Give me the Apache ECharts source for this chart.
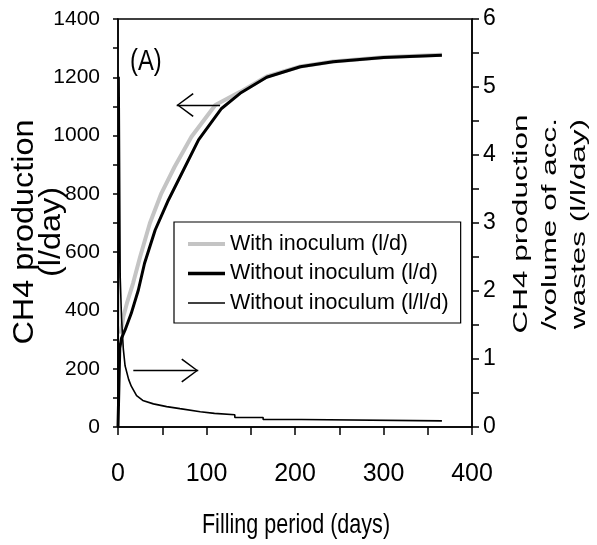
<!DOCTYPE html>
<html>
<head>
<meta charset="utf-8">
<script src="https://cdn.jsdelivr.net/npm/echarts@6/dist/echarts.min.js"></script>
<style>
  html, body { margin: 0; padding: 0; background: #fff; }
  #main { width: 597px; height: 545px; }
</style>
</head>
<body>
<div id="main"></div>
<script>
// with inoculum (l/d), left axis
const withDays = [3, 6, 10, 17, 25, 36, 49, 64, 83, 110, 138, 168, 206, 243, 300, 366]
const withVals = [320, 378, 424, 493, 584, 699, 802, 893, 996, 1105, 1150, 1203, 1237, 1254, 1269, 1277]

// without inoculum (l/d), left axis
const withoutDays = [0, 2, 4, 8, 15, 23, 30, 42, 57, 72, 91, 117, 138, 168, 206, 243, 300, 366]
const withoutVals = [0, 270, 305, 333, 390, 470, 562, 676, 779, 870, 985, 1093, 1145, 1200, 1236, 1253, 1268, 1276]

// without inoculum (l/l/d), right axis
const ratioDays = [0, 1.2, 2.5, 4, 6, 8, 12, 15, 21, 28, 40, 55, 70, 93, 109, 110, 132, 132, 164, 164, 207, 207, 366]
const ratioVals = [0, 5.15, 2.2, 1.6, 1.15, 0.9, 0.7, 0.6, 0.46, 0.39, 0.34, 0.3, 0.27, 0.225, 0.2, 0.18, 0.18, 0.14, 0.14, 0.11, 0.11, 0.09, 0.09]

const xTicks = [0, 400, 100]
const leftTicks = [0, 1400, 200]
const rightTicks = [0, 6, 1]

const pairs = (xs, ys) => xs.map((x, i) => [x, ys[i]])
const plain = v => String(v)

const sans = '"Liberation Sans", Arial, sans-serif'
// open V arrow head, tip in the middle of its box
const head = 'path://M0,-17 L0.01,-17 L0,-16.99 Z M0,0 L12,16 L10.8,17 L0,2.2 L-10.8,17 L-12,16 Z'
const bar = h => 'path://M0,0 L37,0 L37,' + h + ' L0,' + h + ' Z'

const chart = echarts.init(document.getElementById('main'))
chart.setOption({
  animation: false,
  grid: {
    left: 118, right: 125, top: 19, bottom: 118,
    show: true, borderColor: '#000', borderWidth: 1.5, backgroundColor: 'transparent'
  },
  legend: {
    orient: 'vertical',
    left: 174, top: 222,
    padding: [11, 12, 9, 14],
    itemWidth: 37, itemHeight: 14, itemGap: 7.5,
    borderColor: '#000', borderWidth: 1.2,
    textStyle: { fontFamily: sans, fontSize: 21.5, lineHeight: 22, color: '#000' },
    data: [
      { name: 'With inoculum (l/d)', icon: bar(4) },
      { name: 'Without inoculum (l/d)', icon: bar(3.6) },
      { name: 'Without inoculum (l/l/d)', icon: bar(1.4) }
    ]
  },
  xAxis: {
    type: 'value',
    min: xTicks[0], max: xTicks[1], interval: xTicks[2],
    axisLine: { lineStyle: { color: '#000', width: 1.5 } },
    axisTick: { length: 8, lineStyle: { color: '#000', width: 1.5 } },
    minorTick: { show: true, splitNumber: 2, length: 8, lineStyle: { color: '#000', width: 1.5 } },
    axisLabel: { fontFamily: sans, fontSize: 25, color: '#000', margin: 35, formatter: plain },
    splitLine: { show: false }
  },
  yAxis: [
    {
      type: 'value',
      min: leftTicks[0], max: leftTicks[1], interval: leftTicks[2],
      axisLine: { show: true, lineStyle: { color: '#000', width: 1.5 } },
      axisTick: { length: 5, lineStyle: { color: '#000', width: 1.5 } },
      minorTick: { show: true, splitNumber: 2, length: 5, lineStyle: { color: '#000', width: 1.5 } },
      axisLabel: { fontFamily: sans, fontSize: 21, color: '#000', margin: 18, formatter: plain },
      splitLine: { show: false }
    },
    {
      type: 'value', position: 'right',
      min: rightTicks[0], max: rightTicks[1], interval: rightTicks[2],
      axisLine: { show: true, lineStyle: { color: '#000', width: 1.5 } },
      axisTick: { length: 7, lineStyle: { color: '#000', width: 1.5 } },
      minorTick: { show: true, splitNumber: 2, length: 7, lineStyle: { color: '#000', width: 1.5 } },
      axisLabel: { fontFamily: sans, fontSize: 23, color: '#000', margin: 11, formatter: plain },
      splitLine: { show: false }
    }
  ],
  graphic: [
    {
      type: 'text', x: 130, y: 62, scaleX: 0.82,
      style: { text: '(A)', font: '29px ' + sans, fill: '#000', textVerticalAlign: 'middle' }
    },
    {
      type: 'text', x: 296, y: 525, scaleX: 0.77,
      style: { text: 'Filling period (days)', font: '28px ' + sans, fill: '#000', textAlign: 'center', textVerticalAlign: 'middle' }
    },
    {
      type: 'text', x: 38, y: 232, rotation: Math.PI / 2, scaleX: 1.08,
      style: {
        text: 'CH4 production\n(l/day)', font: '30px ' + sans, lineHeight: 27,
        fill: '#000', textAlign: 'center', textVerticalAlign: 'middle'
      }
    },
    {
      type: 'text', x: 550, y: 224, rotation: Math.PI / 2, scaleX: 1.5,
      style: {
        text: 'CH4 production\n/volume of acc.\nwastes (l/l/day)', font: '21px ' + sans, lineHeight: 29,
        fill: '#000', textAlign: 'center', textVerticalAlign: 'middle'
      }
    }
  ],
  series: [
    {
      name: 'With inoculum (l/d)', type: 'line', yAxisIndex: 0,
      data: pairs(withDays, withVals),
      symbol: 'none', color: '#c4c4c4',
      lineStyle: { width: 4, color: '#c4c4c4' }
    },
    {
      name: 'Without inoculum (l/d)', type: 'line', yAxisIndex: 0,
      data: pairs(withoutDays, withoutVals),
      symbol: 'none', color: '#000',
      lineStyle: { width: 3, color: '#000' },
      markLine: {
        silent: true, symbol: ['none', head], symbolSize: [24, 34],
        label: { show: false },
        lineStyle: { color: '#000', width: 1.3, type: 'solid' },
        data: [[{ coord: [115.3, 1105] }, { coord: [66.3, 1105] }]]
      }
    },
    {
      name: 'Without inoculum (l/l/d)', type: 'line', yAxisIndex: 1,
      data: pairs(ratioDays, ratioVals),
      symbol: 'none', color: '#000',
      lineStyle: { width: 1.6, color: '#000' },
      markLine: {
        silent: true, symbol: ['none', head], symbolSize: [24, 34],
        label: { show: false },
        lineStyle: { color: '#000', width: 1.3, type: 'solid' },
        data: [[{ coord: [17.3, 0.83] }, { coord: [90.7, 0.83] }]]
      }
    }
  ]
})
</script>
</body>
</html>
